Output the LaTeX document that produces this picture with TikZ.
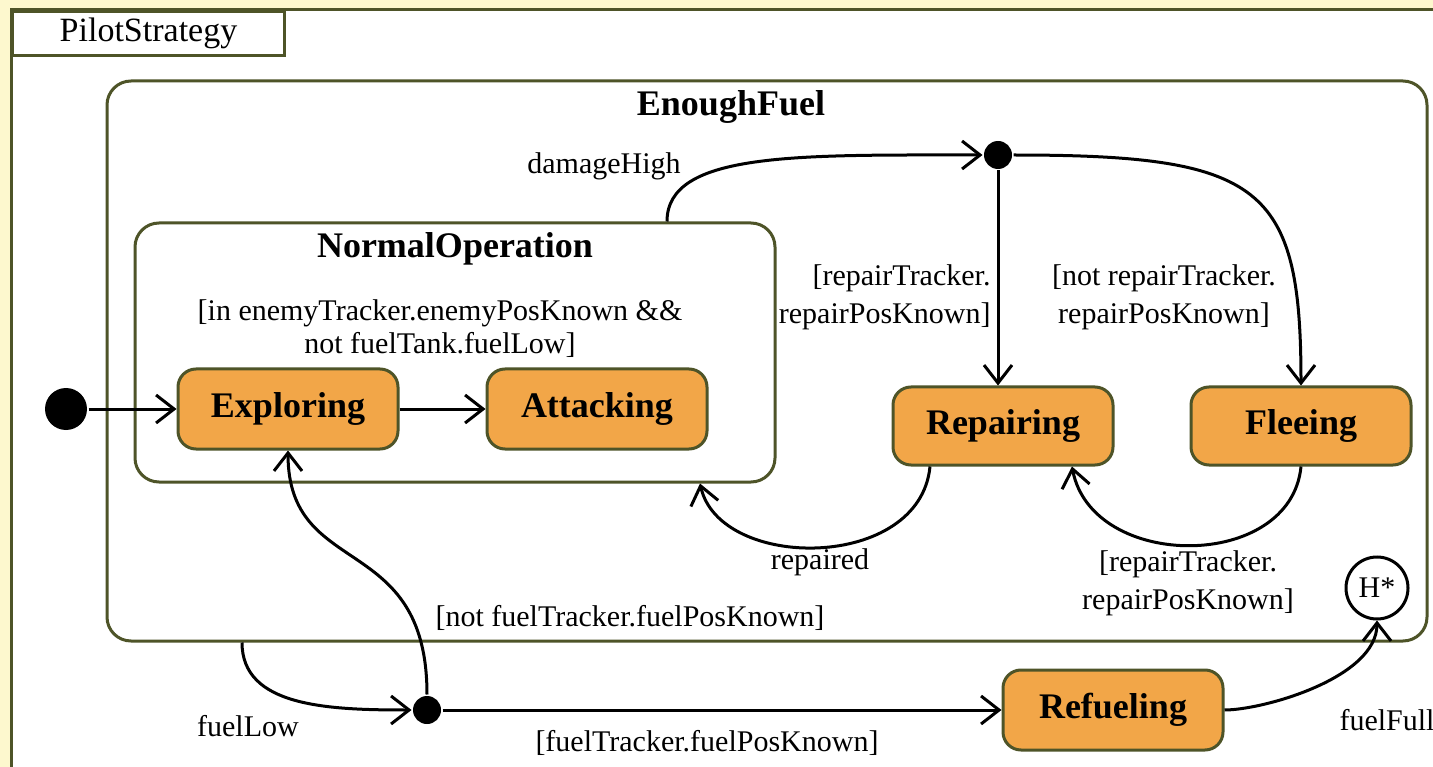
\documentclass[tikz,border=0pt]{standalone}
\usepackage{fontspec}
\setmainfont{Liberation Serif}
\usetikzlibrary{arrows.meta,positioning}

\definecolor{bgyellow}{RGB}{253,248,206}
\definecolor{olive}{RGB}{78,84,40}
\definecolor{stfill}{RGB}{242,166,72}

\begin{document}
\begin{tikzpicture}[x=1pt,y=-1pt,>={Straight Barb[length=18pt,width=28pt]},line width=3pt,
    state/.style={draw=olive,fill=stfill,rounded corners=18pt,minimum width=220pt,minimum height=80pt,font=\fontsize{36}{40}\selectfont\bfseries},
    composite/.style={draw=olive,rounded corners=24pt},
    title/.style={font=\fontsize{36}{40}\selectfont\bfseries},
    guard/.style={font=\fontsize{30}{38}\selectfont,align=center,inner sep=0pt},
    pseudo/.style={circle,fill=black,inner sep=0pt},
    history/.style={circle,draw=black,fill=white,minimum size=62pt,inner sep=0pt,font=\fontsize{30}{36}\selectfont},
    trans/.style={->,draw=black}]
    \useasboundingbox (0,0) rectangle (1433,767);
    \clip (0,0) rectangle (1433,767);
    \fill[bgyellow] (0,0) rectangle (1433,767);

    % frame
    \draw[olive,fill=white] (11,10) rectangle (1470,800);
    \node[draw=olive,fill=white,minimum width=272pt,minimum height=44pt,anchor=north west,inner sep=0pt,font=\fontsize{34}{40}\selectfont] (tab) at (11,10) {PilotStrategy};

    % composite states
    \node[composite,minimum width=1320pt,minimum height=560pt] (enough) at (767,361) {};
    \node[title] (enoughT) at (731,107) {EnoughFuel};
    \node[composite,minimum width=640pt,minimum height=259pt] (normal) at (455,352.5) {};
    \node[title] (normalT) at (455,249) {NormalOperation};
    \node[guard,font=\fontsize{30}{33}\selectfont] (normalG) at (440,329) {[in enemyTracker.enemyPosKnown \&\&\\not fuelTank.fuelLow]};

    % states
    \node[pseudo,minimum size=42pt] (init) at (66,409) {};
    \node[state]         (explore) at (288,409) {Exploring};
    \node[state]         (attack) [right of=explore,node distance=309pt] {Attacking};
    \node[state,minimum height=78pt] (repair) at (1003,426) {Repairing};
    \node[state,minimum height=78pt] (flee) [right of=repair,node distance=298pt] {Fleeing};
    \node[state]         (refuel) at (1113,710) {Refueling};
    \node[history]       (hist) at (1377,588) {H*};
    \node[pseudo,minimum size=28pt] (fork1) at (998,155) {};
    \node[pseudo,minimum size=28pt] (fork2) at (427,710) {};

    % transitions
    \draw[trans] (init) -- (explore);
    \draw[trans] (explore) -- (attack);
    \draw[trans] ([xshift=212pt]normal.north) .. controls +(0,-70) and +(-200,0) .. (fork1);
    \draw[trans] (fork1) -- (fork1 |- repair.north);
    \draw[trans] (fork1) .. controls +(264,0) and +(0,-200) .. (flee.north);
    \draw[trans] ([xshift=-73pt]repair.south) .. controls +(-10,105) and +(20,88) .. ([xshift=245pt]normal.south);
    \draw[trans] (flee.south) .. controls +(-10,105) and +(20,105) .. ([xshift=69pt]repair.south);
    \draw[trans] ([xshift=-525pt]enough.south) .. controls +(0,64) and +(-100,0) .. (fork2);
    \draw[trans] (fork2) .. controls +(0,-180) and +(0,130) .. (explore.south);
    \draw[trans] (fork2) -- (refuel);
    \draw[trans] (refuel) .. controls +(150,0) and +(0,90) .. (hist);

    % labels
    \node[guard] (lblDamage) at (604,166) {damageHigh};
    \node[guard,align=right,anchor=east] (lblRepairGo) at (992,297) {[repairTracker.\\repairPosKnown]};
    \node[guard] (lblFleeGo) at (1164,297) {[not repairTracker.\\repairPosKnown]};
    \node[guard] (lblRepaired) at (820,562) {repaired};
    \node[guard] (lblFleeBack) at (1188,583) {[repairTracker.\\repairPosKnown]};
    \node[guard] (lblNoFuelPos) at (630,618) {[not fuelTracker.fuelPosKnown]};
    \node[guard] (lblFuelPos) at (707,743) {[fuelTracker.fuelPosKnown]};
    \node[guard] (lblFuelLow) at (248,726) {fuelLow};
    \node[guard] (lblFuelFull) at (1387,720) {fuelFull};
\end{tikzpicture}
\end{document}
